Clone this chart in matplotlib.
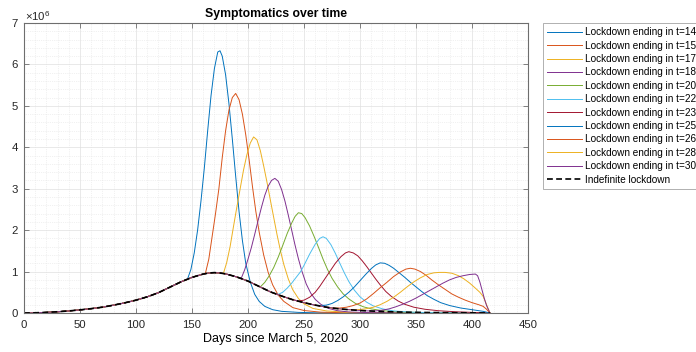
import numpy as np
import matplotlib.pyplot as plt
from matplotlib.ticker import MultipleLocator

plt.rcParams['font.family'] = ['Liberation Sans', 'DejaVu Sans']
plt.rcParams['mathtext.fontset'] = 'custom'
plt.rcParams['mathtext.rm'] = 'Liberation Sans'

# === Data (symptomatic people, in millions) ===
# indefinite lockdown
base_days = [0, 10, 20, 30, 40, 50, 60, 70, 80, 90, 100, 110, 120, 130, 140, 150,
             155, 160, 165, 170, 175, 180, 190, 200, 210, 220, 230, 240, 250, 260,
             270, 280, 290, 300, 320, 340, 360, 380, 400, 416]
base_vals = [0.0, 0.005, 0.015, 0.03, 0.05, 0.075, 0.105, 0.14, 0.19, 0.245, 0.31,
             0.39, 0.49, 0.62, 0.75, 0.86, 0.9, 0.94, 0.965, 0.975, 0.965, 0.945,
             0.87, 0.77, 0.64, 0.51, 0.41, 0.32, 0.25, 0.19, 0.14, 0.105, 0.08, 0.06,
             0.035, 0.02, 0.012, 0.007, 0.004, 0.0]

lockdown_ends = [140, 156, 172, 188, 204, 220, 236, 252, 268, 284, 300]

# each scenario, from the day it leaves the indefinite-lockdown curve
days_140 = [146, 149, 152, 155, 158, 161, 164, 167, 170, 173, 175, 177, 180, 183, 186,
            189, 192, 195, 198, 202, 206, 210, 215, 222, 230, 245, 260, 300, 416]
vals_140 = [0.82, 1.05, 1.45, 2.0, 2.7, 3.5, 4.4, 5.25, 5.9, 6.3, 6.33, 6.2, 5.75, 5.05,
            4.2, 3.3, 2.45, 1.75, 1.2, 0.75, 0.45, 0.28, 0.16, 0.08, 0.04, 0.015, 0.005,
            0.0, 0.0]

days_156 = [162, 165, 168, 171, 174, 177, 180, 183, 186, 189, 192, 195, 198, 201, 204,
            207, 210, 214, 218, 222, 227, 232, 240, 250, 265, 290, 320, 416]
vals_156 = [0.96, 1.3, 1.85, 2.4, 3.0, 3.75, 4.4, 4.9, 5.2, 5.3, 5.15, 4.8, 4.3, 3.7,
            3.05, 2.45, 1.95, 1.4, 0.98, 0.68, 0.43, 0.28, 0.13, 0.06, 0.02, 0.005,
            0.0, 0.0]

days_172 = [178, 181, 184, 187, 190, 193, 196, 199, 202, 205, 208, 211, 214, 217, 220,
            223, 226, 229, 232, 236, 240, 245, 250, 258, 270, 290, 320, 416]
vals_172 = [0.95, 1.22, 1.6, 2.08, 2.55, 3.0, 3.45, 3.82, 4.1, 4.25, 4.18, 3.92, 3.55,
            3.15, 2.72, 2.3, 1.88, 1.5, 1.17, 0.82, 0.56, 0.35, 0.22, 0.11, 0.05, 0.015,
            0.0, 0.0]

days_188 = [194, 197, 200, 203, 206, 209, 212, 215, 218, 221, 224, 227, 230, 233, 236,
            239, 242, 245, 248, 252, 256, 260, 265, 272, 280, 290, 310, 340, 416]
vals_188 = [0.84, 1.04, 1.3, 1.58, 1.9, 2.23, 2.55, 2.84, 3.06, 3.2, 3.25, 3.18, 2.98,
            2.7, 2.36, 2.0, 1.64, 1.31, 1.02, 0.7, 0.48, 0.33, 0.21, 0.11, 0.055, 0.025,
            0.007, 0.0, 0.0]

days_204 = [211, 215, 219, 223, 227, 231, 235, 239, 242, 245, 248, 251, 255, 259, 263,
            267, 271, 275, 280, 285, 290, 296, 303, 310, 320, 335, 360, 400, 416]
vals_204 = [0.63, 0.74, 0.9, 1.1, 1.35, 1.63, 1.92, 2.17, 2.33, 2.42, 2.4, 2.3, 2.1,
            1.85, 1.58, 1.3, 1.05, 0.84, 0.63, 0.46, 0.34, 0.23, 0.15, 0.1, 0.055, 0.025,
            0.008, 0.0, 0.0]

days_220 = [227, 231, 235, 239, 243, 247, 250, 255, 260, 264, 267, 270, 274, 278, 282,
            286, 290, 295, 300, 306, 312, 320, 330, 345, 370, 416]
vals_220 = [0.45, 0.5, 0.6, 0.72, 0.86, 1.0, 1.15, 1.42, 1.66, 1.8, 1.84, 1.8, 1.65,
            1.44, 1.2, 0.97, 0.76, 0.55, 0.39, 0.26, 0.17, 0.1, 0.05, 0.02, 0.005, 0.0]

days_236 = [245, 250, 255, 260, 264, 268, 273, 278, 283, 287, 290, 294, 298, 302, 306,
            310, 314, 318, 323, 328, 334, 340, 348, 358, 370, 385, 400, 416]
vals_236 = [0.29, 0.31, 0.38, 0.5, 0.64, 0.8, 1.0, 1.2, 1.36, 1.45, 1.48, 1.45, 1.38,
            1.26, 1.12, 0.97, 0.82, 0.68, 0.52, 0.4, 0.29, 0.21, 0.14, 0.09, 0.055, 0.03,
            0.015, 0.0]

days_252 = [259, 265, 270, 275, 280, 285, 290, 295, 300, 305, 310, 314, 318, 322, 326,
            330, 335, 340, 345, 350, 355, 360, 366, 372, 380, 390, 400, 410, 416]
vals_252 = [0.19, 0.18, 0.19, 0.23, 0.3, 0.39, 0.5, 0.63, 0.78, 0.93, 1.07, 1.16, 1.21,
            1.2, 1.15, 1.08, 0.97, 0.86, 0.74, 0.63, 0.52, 0.42, 0.33, 0.25, 0.18, 0.12,
            0.08, 0.04, 0.0]

days_268 = [275, 282, 288, 294, 300, 306, 312, 318, 324, 330, 336, 341, 345, 349, 354,
            359, 364, 370, 376, 382, 388, 394, 400, 406, 410, 413, 416]
vals_268 = [0.12, 0.12, 0.14, 0.18, 0.24, 0.34, 0.47, 0.61, 0.74, 0.88, 0.99, 1.06,
            1.08, 1.06, 1.0, 0.91, 0.8, 0.68, 0.57, 0.46, 0.38, 0.31, 0.25, 0.2, 0.16,
            0.09, 0.0]

days_284 = [291, 298, 305, 312, 318, 324, 330, 336, 342, 348, 354, 360, 366, 371, 376,
            382, 388, 393, 398, 403, 407, 410, 413, 416]
vals_284 = [0.08, 0.08, 0.1, 0.14, 0.2, 0.28, 0.38, 0.5, 0.63, 0.75, 0.85, 0.93, 0.97,
            0.98, 0.98, 0.96, 0.9, 0.82, 0.72, 0.6, 0.5, 0.4, 0.2, 0.0]

days_300 = [307, 314, 320, 326, 332, 338, 344, 350, 356, 362, 368, 374, 380, 386, 392,
            398, 403, 405, 407, 409, 411, 413, 416]
vals_300 = [0.05, 0.05, 0.07, 0.1, 0.15, 0.21, 0.28, 0.36, 0.45, 0.54, 0.63, 0.72, 0.8,
            0.86, 0.9, 0.93, 0.94, 0.9, 0.75, 0.55, 0.35, 0.18, 0.0]

scenario_days = [days_140, days_156, days_172, days_188, days_204, days_220,
                 days_236, days_252, days_268, days_284, days_300]
scenario_vals = [vals_140, vals_156, vals_172, vals_188, vals_204, vals_220,
                 vals_236, vals_252, vals_268, vals_284, vals_300]

# MATLAB default colour order
colors = ['#0072BD', '#D95319', '#EDB120', '#7E2F8E', '#77AC30', '#4DBEEE', '#A2142F']

# === Plot ===
fig = plt.figure(figsize=(6.96, 3.52), dpi=100)
ax = fig.add_axes([24 / 696, 39 / 352, 504 / 696, 290 / 352])

for i, (end, d, v) in enumerate(zip(lockdown_ends, scenario_days, scenario_vals)):
    # before leaving, the scenario sits on the indefinite-lockdown curve
    pre_d = [x for x in base_days if x < d[0]]
    pre_v = [y for x, y in zip(base_days, base_vals) if x < d[0]]
    ax.plot(pre_d + d, pre_v + v, color=colors[i % len(colors)], lw=0.7,
            label=f"Lockdown ending in t={end}")

ax.plot(base_days, base_vals, color='black', lw=1.2, dashes=(3.5, 2),
        label="Indefinite lockdown")

ax.set_xlim(0, 450)
ax.set_ylim(0, 7)
ax.xaxis.set_major_locator(MultipleLocator(50))
ax.xaxis.set_minor_locator(MultipleLocator(10))
ax.yaxis.set_major_locator(MultipleLocator(1))
ax.yaxis.set_minor_locator(MultipleLocator(0.2))

ax.grid(True, which='major', color='#e0e0e0', lw=0.5)
ax.grid(True, which='minor', color='#e4e4e4', lw=0.5, ls=':')
ax.set_axisbelow(True)

for s in ax.spines.values():
    s.set_color('#6e6e6e')
    s.set_linewidth(0.8)
ax.tick_params(which='major', direction='in', length=3.6, width=0.6, top=True,
               right=True, labelsize=8.2, colors='#6e6e6e', labelcolor='#262626')
ax.tick_params(axis='x', pad=5)
ax.tick_params(axis='y', pad=4.5)
ax.tick_params(which='minor', length=0)

ax.set_title("Symptomatics over time", fontsize=8.8, fontweight='bold', pad=4)
ax.set_xlabel("Days since March 5, 2020", fontsize=9, labelpad=2)
ax.text(1 / 504, 1 + 2 / 290, r'$\times10^{6}$', transform=ax.transAxes,
        fontsize=8.2, ha='left', va='baseline', color='#262626')

leg = fig.legend(loc='upper left', bbox_to_anchor=(542.7 / 696, 1 - 22.7 / 352),
                 borderaxespad=0, fontsize=7.2, frameon=True, fancybox=False,
                 handlelength=3.5, handletextpad=0.3, labelspacing=0.34,
                 borderpad=0.45)
leg.get_frame().set_edgecolor('#8c8c8c')
leg.get_frame().set_linewidth(0.6)

fig.savefig("out.png", dpi=100)
